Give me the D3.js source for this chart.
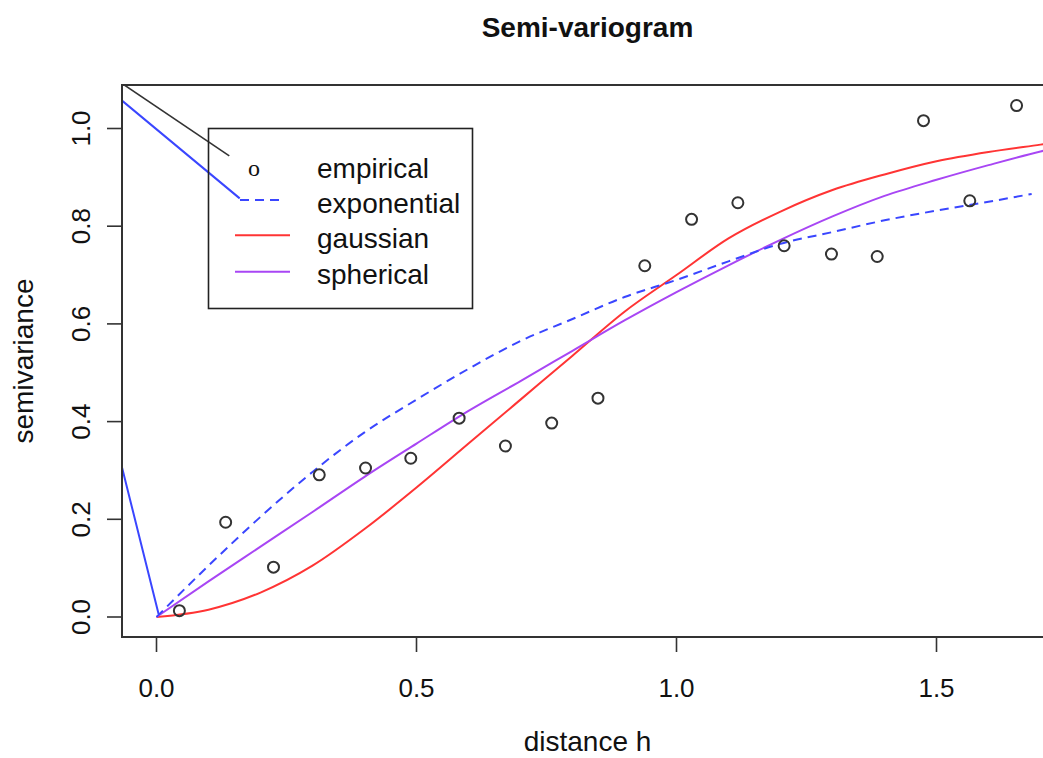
<!DOCTYPE html>
<html>
<head>
<meta charset="utf-8">
<style>
body { margin: 0; background: #fff; }
text { font-family: "Liberation Sans", Arial, sans-serif; fill: #111; }
</style>
</head>
<body>
<script src="https://cdn.jsdelivr.net/npm/d3@7"></script>
<script>

// empirical semi-variance
var empH = [0.044, 0.133, 0.225, 0.313, 0.402, 0.489, 0.582, 0.671, 0.760, 0.849,
            0.939, 1.029, 1.118, 1.207, 1.298, 1.386, 1.475, 1.564, 1.654];
var empV = [0.013, 0.194, 0.102, 0.291, 0.305, 0.325, 0.407, 0.350, 0.397, 0.448,
            0.719, 0.814, 0.848, 0.760, 0.743, 0.738, 1.016, 0.852, 1.047];

// fitted models
var expH = [0, 0.1, 0.2, 0.3, 0.4, 0.5, 0.6, 0.7, 0.8, 0.9, 1.0, 1.1, 1.2, 1.3, 1.4, 1.5, 1.6, 1.683];
var expV = [0, 0.105, 0.205, 0.297, 0.378, 0.445, 0.508, 0.565, 0.61, 0.655, 0.69, 0.728, 0.764, 0.788, 0.812, 0.832, 0.85, 0.866];

var modH = [0, 0.1, 0.2, 0.3, 0.4, 0.5, 0.6, 0.7, 0.8, 0.9, 1.0, 1.1, 1.2, 1.3, 1.4, 1.5, 1.6, 1.7, 1.72];
var gauV = [0, 0.015, 0.05, 0.105, 0.18, 0.265, 0.355, 0.445, 0.535, 0.625, 0.70, 0.775, 0.83, 0.874, 0.906, 0.933, 0.952, 0.967, 0.97];
var sphV = [0, 0.073, 0.144, 0.215, 0.287, 0.355, 0.422, 0.483, 0.545, 0.607, 0.665, 0.72, 0.772, 0.82, 0.862, 0.895, 0.925, 0.953, 0.958];

// stray segments that run out of the legend
var blackStray = [[0.14, 0.944], [-0.3, 1.26]];
var blueStray = [[0.16, 0.857], [-0.288, 1.253], [0.004, 0.006]];

var xTicks = [0, 0.5, 1.0, 1.5];
var yTicks = [0, 0.2, 0.4, 0.6, 0.8, 1.0];

var legendNames = ["empirical", "exponential", "gaussian", "spherical"];

var width = 1043, height = 758;
var pL = 122, pT = 85, pR = 1053, pB = 637;

var blue = "#3a46ff", red = "#ff3434", purple = "#a846f4";

var x = d3.scaleLinear().domain([0, 1.5]).range([156.5, 156.5 + 780]);
var y = d3.scaleLinear().domain([0, 1.0]).range([617, 128.5]);

var svg = d3.select("body").append("svg")
    .attr("width", width)
    .attr("height", height);

svg.append("clipPath").attr("id", "plotclip")
  .append("rect")
    .attr("x", pL).attr("y", pT)
    .attr("width", pR - pL).attr("height", pB - pT);

// title
svg.append("text")
    .attr("x", (pL + pR) / 2)
    .attr("y", 37)
    .attr("text-anchor", "middle")
    .style("font-size", "28px")
    .style("font-weight", "bold")
    .text("Semi-variogram");

// axes titles
svg.append("text")
    .attr("x", (pL + pR) / 2)
    .attr("y", 751)
    .attr("text-anchor", "middle")
    .style("font-size", "28px")
    .text("distance h");

svg.append("text")
    .attr("transform", "translate(33," + ((pT + pB) / 2) + ") rotate(-90)")
    .attr("text-anchor", "middle")
    .style("font-size", "28px")
    .text("semivariance");

// ticks
svg.append("g").selectAll("line")
    .data(xTicks).enter().append("line")
    .attr("x1", function(d) { return x(d); })
    .attr("x2", function(d) { return x(d); })
    .attr("y1", pB).attr("y2", pB + 15)
    .attr("stroke", "#333").attr("stroke-width", 1.6);

svg.append("g").selectAll("text")
    .data(xTicks).enter().append("text")
    .attr("x", function(d) { return x(d); })
    .attr("y", 696.5)
    .attr("text-anchor", "middle")
    .style("font-size", "26px")
    .text(function(d) { return d3.format(".1f")(d); });

svg.append("g").selectAll("line")
    .data(yTicks).enter().append("line")
    .attr("x1", pL - 15).attr("x2", pL)
    .attr("y1", function(d) { return y(d); })
    .attr("y2", function(d) { return y(d); })
    .attr("stroke", "#333").attr("stroke-width", 1.6);

svg.append("g").selectAll("text")
    .data(yTicks).enter().append("text")
    .attr("transform", function(d) { return "translate(90," + y(d) + ") rotate(-90)"; })
    .attr("text-anchor", "middle")
    .style("font-size", "26px")
    .text(function(d) { return d3.format(".1f")(d); });

// plot contents
var plot = svg.append("g").attr("clip-path", "url(#plotclip)");

var line = d3.line()
    .x(function(d) { return x(d[0]); })
    .y(function(d) { return y(d[1]); });

var smooth = d3.line()
    .curve(d3.curveMonotoneX)
    .x(function(d) { return x(d[0]); })
    .y(function(d) { return y(d[1]); });

function pairs(hs, vs) {
  return hs.map(function(h, i) { return [h, vs[i]]; });
}

plot.append("path")
    .attr("d", smooth(pairs(modH, gauV)))
    .attr("fill", "none").attr("stroke", red).attr("stroke-width", 2);

plot.append("path")
    .attr("d", smooth(pairs(modH, sphV)))
    .attr("fill", "none").attr("stroke", purple).attr("stroke-width", 2);

plot.append("path")
    .attr("d", smooth(pairs(expH, expV)))
    .attr("fill", "none").attr("stroke", blue).attr("stroke-width", 2)
    .attr("stroke-dasharray", "9,6");

plot.selectAll("circle")
    .data(pairs(empH, empV)).enter().append("circle")
    .attr("cx", function(d) { return x(d[0]); })
    .attr("cy", function(d) { return y(d[1]); })
    .attr("r", 5.5)
    .attr("fill", "none")
    .attr("stroke", "#333")
    .attr("stroke-width", 2);

// legend
var lg = svg.append("g");
lg.append("rect")
    .attr("x", 208.5).attr("y", 128.5)
    .attr("width", 264).attr("height", 180)
    .attr("fill", "none").attr("stroke", "#222").attr("stroke-width", 1.6);

var rowY = legendNames.map(function(d, i) { return 177.5 + 35.4 * i; });

lg.selectAll("text.lab")
    .data(legendNames).enter().append("text")
    .attr("class", "lab")
    .attr("x", 317)
    .attr("y", function(d, i) { return rowY[i]; })
    .style("font-size", "28px")
    .text(function(d) { return d; });

lg.append("text")
    .attr("x", 254).attr("y", 176)
    .attr("text-anchor", "middle")
    .style("font-family", "'Liberation Serif', serif")
    .style("font-size", "24px")
    .text("o");

lg.append("line")
    .attr("x1", 240).attr("x2", 283)
    .attr("y1", rowY[1] - 13).attr("y2", rowY[1] - 13)
    .attr("stroke", blue).attr("stroke-width", 2)
    .attr("stroke-dasharray", "9,6");

lg.append("line")
    .attr("x1", 235).attr("x2", 290)
    .attr("y1", rowY[2] - 13).attr("y2", rowY[2] - 13)
    .attr("stroke", red).attr("stroke-width", 2);

lg.append("line")
    .attr("x1", 235).attr("x2", 290)
    .attr("y1", rowY[3] - 12).attr("y2", rowY[3] - 12)
    .attr("stroke", purple).attr("stroke-width", 2);

// stray lines, clipped to the plot box
plot.append("path")
    .attr("d", line(blackStray))
    .attr("fill", "none").attr("stroke", "#333").attr("stroke-width", 1.6);

plot.append("path")
    .attr("d", line(blueStray))
    .attr("fill", "none").attr("stroke", blue).attr("stroke-width", 2);

// box
svg.append("rect")
    .attr("x", pL).attr("y", pT)
    .attr("width", pR - pL).attr("height", pB - pT)
    .attr("fill", "none").attr("stroke", "#333").attr("stroke-width", 2);

</script>
</body>
</html>
